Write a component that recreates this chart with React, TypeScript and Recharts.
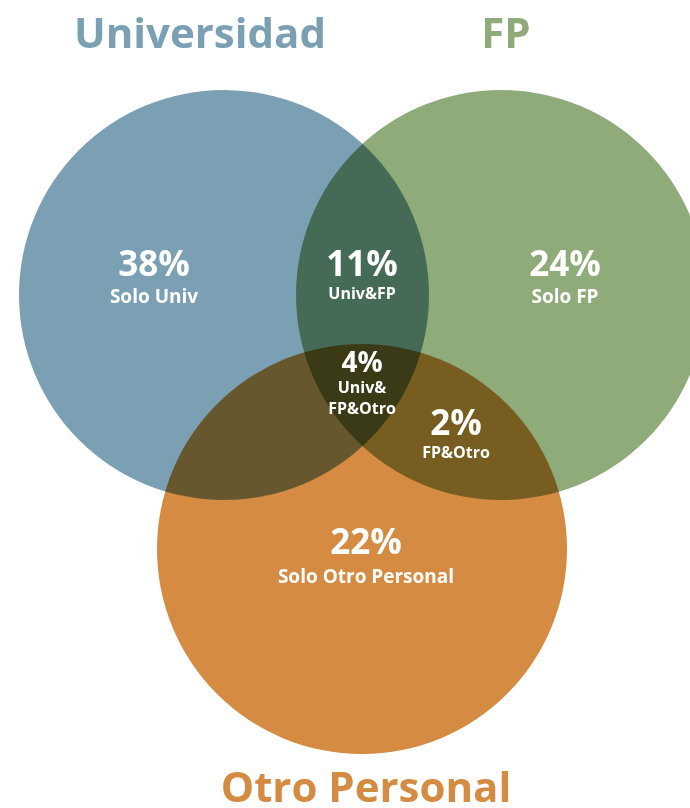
import { ScatterChart, Scatter, XAxis, YAxis } from 'recharts';

const W = 690;
const H = 808;

// sets of the Venn diagram (data units = page px, y grows downward)
const setNames = ['Universidad', 'FP', 'Otro Personal'];
const setX = [224, 501, 362];
const setY = [295, 295, 549];
const setR = [205, 205, 205];
const setColors = ['#7ba0b4', '#8eab79', '#d58b41'];

// title positions (baseline)
const titleX = [200, 506, 366];
const titleY = [48, 48, 802];

// region labels
const regionPct = ['38%', '11%', '24%', '4%', '2%', '22%'];
const regionName = ['Solo Univ', 'Univ&FP', 'Solo FP', 'Univ&\nFP&Otro', 'FP&Otro', 'Solo Otro Personal'];
const regionX = [154, 362, 565, 362, 456, 366];
const regionPctY = [276, 276, 276, 372, 435, 554];
const regionNameY = [303, 299, 303, 393, 458, 583];

const FONT = '"Open Sans", "DejaVu Sans", sans-serif';

const circles = setNames.map((name, i) => ({
  name,
  x: setX[i],
  y: setY[i],
  r: setR[i],
  color: setColors[i],
}));

const titles = setNames.map((name, i) => ({
  text: name,
  x: titleX[i],
  y: titleY[i],
  color: setColors[i],
}));

const labels = regionPct.map((pct, i) => ({
  pct,
  name: regionName[i],
  x: regionX[i],
  y: regionPctY[i],
  nameY: regionNameY[i],
}));

// plot area is W wide for a domain of [0, W], so one data unit is one pixel
const CircleShape = (props: any) => {
  const { cx, cy, payload } = props;
  return <circle cx={cx} cy={cy} r={payload.r} fill={payload.color} style={{ mixBlendMode: 'multiply' }} />;
};

const TitleShape = (props: any) => {
  const { cx, cy, payload } = props;
  return (
    <text x={cx} y={cy} textAnchor="middle" fontFamily={FONT} fontWeight={700} fontSize={42} fill={payload.color}>
      {payload.text}
    </text>
  );
};

const LabelShape = (props: any) => {
  const { cx, cy, payload } = props;
  const small = payload.pct === '4%';
  const lines = String(payload.name).split('\n');
  const nameSize = payload.name.startsWith('Solo') ? 19 : 16;
  const dy = payload.nameY - payload.y;
  return (
    <g>
      <text x={cx} y={cy} textAnchor="middle" fontFamily={FONT} fontWeight={700} fontSize={small ? 28 : 35} fill="#ffffff">
        {payload.pct}
      </text>
      {lines.map((line: string, k: number) => (
        <text
          key={k}
          x={cx}
          y={cy + dy + k * 21}
          textAnchor="middle"
          fontFamily={FONT}
          fontWeight={700}
          fontSize={nameSize}
          fill="#ffffff"
        >
          {line}
        </text>
      ))}
    </g>
  );
};

export default function App() {
  return (
    <div style={{ position: 'absolute', left: 0, top: 0, width: W, height: H, background: '#ffffff' }}>
      <ScatterChart width={W} height={H} margin={{ top: 0, right: 0, bottom: 0, left: 0 }}>
        <XAxis type="number" dataKey="x" domain={[0, W]} hide />
        <YAxis type="number" dataKey="y" domain={[0, H]} reversed hide />
        <Scatter data={circles} shape={<CircleShape />} isAnimationActive={false} />
        <Scatter data={titles} shape={<TitleShape />} isAnimationActive={false} />
        <Scatter data={labels} shape={<LabelShape />} isAnimationActive={false} />
      </ScatterChart>
    </div>
  );
}
